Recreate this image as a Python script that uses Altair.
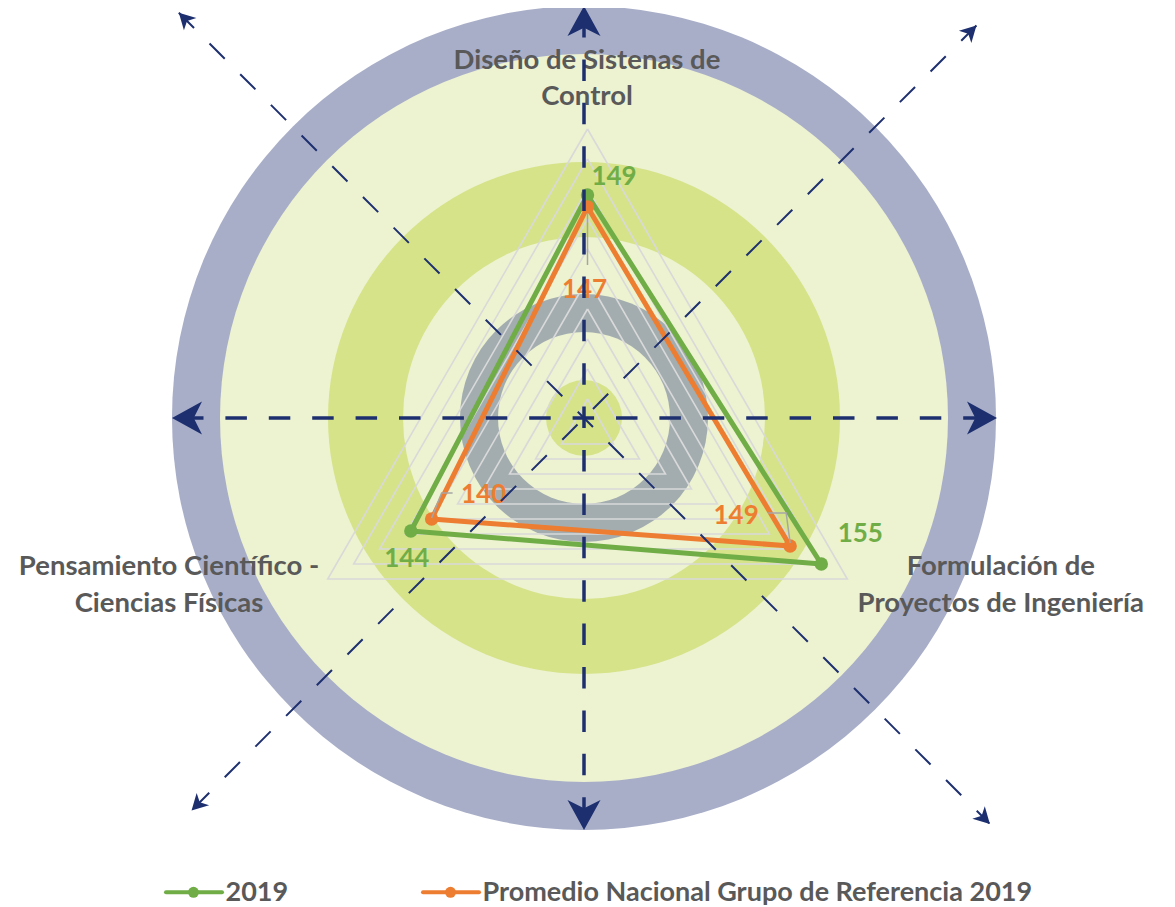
import altair as alt
import pandas as pd

# ---------------- data ----------------
axis_names = ["Diseño de Sistenas de Control",
              "Formulación de Proyectos de Ingeniería",
              "Pensamiento Científico - Ciencias Físicas"]
axis_label_line1 = ["Diseño de Sistenas de", "Formulación de", "Pensamiento Científico -"]
axis_label_line2 = ["Control", "Proyectos de Ingeniería", "Ciencias Físicas"]
series_names = ["2019", "Promedio Nacional Grupo de Referencia 2019"]
values_2019 = [149, 155, 144]
values_promedio = [147, 149, 140]
radial_min = 110
radial_max = 160
grid_levels = [115, 120, 125, 130, 135, 140, 145, 150, 155, 160]

# ---------------- styling ----------------
W, H = 1159, 899
CX, CY = 576, 410                     # centre of the decorative rings (plot px)
RADAR_DX, RADAR_DY = 3.5, -11         # radar centre relative to ring centre
RADAR_R = 300
FONT = "Lato"
TEXT_GREY = "#595959"
SERIES_COLORS = ["#70ad47", "#ed7d31"]
NAVY = "#1d2f6f"
RING_RADII = [412, 364, 256, 181, 124, 86, 38]
RING_COLORS = ["#a8aec8", "#edf2d1", "#d6e389", "#edf2d1", "#a3adb0", "#edf2d1", "#d6e389"]

# data-label offsets (screen px: dx, baseline dy) per series per axis
LABEL_OFFSETS = [[(26.5, -10), (39, -22), (-4, 36)],
                 [(-3, 91), (-54, -22), (52, -16)]]
# leader lines of the second series labels (screen px relative to point)
LEADERS = [[(0, 6), (0, 58)],
           [(0, -3), (-4, -33), (-22, -33)],
           [(0, -1), (10, -26), (21, -26)]]
# axis label offsets from outer vertex (dx, baseline dy line1, line2)
AXIS_LABEL_OFF = [(-0.5, -59.7, -24), (153.5, -4, 32.7), (-158.7, -4, 32.7)]

XS = alt.Scale(domain=[-CX, W - CX], nice=False, zero=False)
YS = alt.Scale(domain=[-(H - CY), CY], nice=False, zero=False)


def X(f):
    return alt.X(f, type="quantitative", scale=XS, axis=None)


def Y(f):
    return alt.Y(f, type="quantitative", scale=YS, axis=None)


def radar_calc(ch, value_field="value", idx_field="i"):
    return ch.transform_calculate(
        ang=f"PI/2 - 2*PI/3*datum.{idx_field}",
        rr=f"(datum.{value_field} - {radial_min})/({radial_max} - {radial_min})*{RADAR_R}",
        px=f"{RADAR_DX} + datum.rr*cos(datum.ang)",
        py=f"{RADAR_DY} + datum.rr*sin(datum.ang)",
    )


# ---- rings ----
rings = pd.DataFrame({"r": RING_RADII, "color": RING_COLORS, "k": list(range(len(RING_RADII)))})
rings["cx"] = 0.0
rings["cy"] = 0.0
ring_layer = alt.Chart(rings).transform_calculate(sz="4*datum.r*datum.r").mark_point(
    shape="circle", filled=True, opacity=1, strokeWidth=0
).encode(
    x=X("cx"), y=Y("cy"),
    size=alt.Size("sz:Q", scale=None),
    color=alt.Color("color:N", scale=None),
    order=alt.Order("k:Q"),
)

# ---- grid triangles ----
grid_rows = []
for lv in grid_levels:
    for v in range(4):
        grid_rows.append({"level": lv, "i": v, "value": lv})
grid_layer = radar_calc(alt.Chart(pd.DataFrame(grid_rows))).mark_line(
    color="#d9d9d9", strokeWidth=1.6
).encode(x=X("px"), y=Y("py"), detail="level:N", order="i:Q")

# ---- series ----
series_values = [values_2019, values_promedio]
series_layers = []
label_layers = []
for s, (name, vals) in enumerate(zip(series_names, series_values)):
    rows = [{"series": name, "i": i, "value": vals[i % 3]} for i in range(4)]
    df = pd.DataFrame(rows)
    base = radar_calc(alt.Chart(df))
    line = base.mark_line(color=SERIES_COLORS[s], strokeWidth=5, strokeJoin="round").encode(
        x=X("px"), y=Y("py"), order="i:Q")
    pts = base.transform_filter("datum.i < 3").mark_point(
        shape="circle", filled=True, opacity=1, size=180, color=SERIES_COLORS[s]
    ).encode(x=X("px"), y=Y("py"))
    series_layers += [line, pts]

    lab = pd.DataFrame({"i": [0, 1, 2], "value": vals,
                        "text": [str(v) for v in vals],
                        "dx": [o[0] for o in LABEL_OFFSETS[s]],
                        "dy": [o[1] for o in LABEL_OFFSETS[s]]})
    lab_layer = radar_calc(alt.Chart(lab)).transform_calculate(
        lx="datum.px + datum.dx", ly="datum.py - datum.dy"
    ).mark_text(font=FONT, fontSize=26, fontWeight="bold", color=SERIES_COLORS[s],
                align="center", baseline="alphabetic").encode(
        x=X("lx"), y=Y("ly"), text="text:N")
    label_layers.append(lab_layer)

# leader lines for the second series
lead_rows = []
for i in range(3):
    for j, (ddx, ddy) in enumerate(LEADERS[i]):
        lead_rows.append({"i": i, "j": j, "value": values_promedio[i], "ddx": ddx, "ddy": ddy})
leader_layer = radar_calc(alt.Chart(pd.DataFrame(lead_rows))).transform_calculate(
    lx="datum.px + datum.ddx", ly="datum.py - datum.ddy"
).mark_line(color="#a6a6a6", strokeWidth=1.5).encode(
    x=X("lx"), y=Y("ly"), detail="i:N", order="j:Q")

# ---- axis category labels ----
ax_rows = []
for i in range(3):
    off = AXIS_LABEL_OFF[i]
    ax_rows.append({"i": i, "value": radial_max, "text": axis_label_line1[i], "dx": off[0], "dy": off[1]})
    ax_rows.append({"i": i, "value": radial_max, "text": axis_label_line2[i], "dx": off[0], "dy": off[2]})
axis_label_layer = radar_calc(alt.Chart(pd.DataFrame(ax_rows))).transform_calculate(
    lx="datum.px + datum.dx", ly="datum.py - datum.dy"
).mark_text(font=FONT, fontSize=27.5, fontWeight="bold", color=TEXT_GREY,
            align="center", baseline="alphabetic").encode(x=X("lx"), y=Y("ly"), text="text:N")

# ---- dashed guide lines ----
dash_df = pd.DataFrame({
    "a": [180, 90, 135, 45],
    "r1": [402, 402, 573, 555],
    "r2": [402, 402, 573, 555],
    "w": [3.5, 3.5, 2.0, 2.0],
})
dash_base = alt.Chart(dash_df).transform_calculate(
    rad="datum.a*PI/180",
    x1="datum.r1*cos(datum.rad)", y1="datum.r1*sin(datum.rad)",
    x2="-datum.r2*cos(datum.rad)", y2="-datum.r2*sin(datum.rad)",
)
dash_layers = []
for wv in [3.5, 2.0]:
    dash_layers.append(
        dash_base.transform_filter(f"datum.w == {wv}").mark_rule(
            color=NAVY, strokeWidth=wv, strokeDash=[21.5, 21.9]
        ).encode(x=X("x1"), y=Y("y1"), x2="x2:Q", y2="y2:Q")
    )

ARROW_PATH = "M1,0 L-1,-1.1 L-0.45,0 L-1,1.1 Z"
arrow_df = pd.DataFrame({
    "a": [0, 90, 180, 270, 135, 315, 45, 225],
    "tip": [413, 412, 412, 412, 573, 574, 555, 555],
    "len": [30, 30, 30, 30, 16, 16, 16, 16],
})
arrow_layer = alt.Chart(arrow_df).transform_calculate(
    rad="datum.a*PI/180",
    rc="datum.tip - datum.len/2",
    ax="datum.rc*cos(datum.rad)", ay="datum.rc*sin(datum.rad)",
    sa="(360 - datum.a) % 360",
    sz="datum.len*datum.len",
).mark_point(shape=ARROW_PATH, filled=True, opacity=1, color=NAVY, strokeWidth=0).encode(
    x=X("ax"), y=Y("ay"),
    angle=alt.Angle("sa:Q", scale=None),
    size=alt.Size("sz:Q", scale=None),
)

# ---- legend (manual) ----
LEGEND_X = [-418, -161]
LEGEND_Y = -474.3
LEGEND_TEXT_Y = -482.7
leg = pd.DataFrame({"series": series_names, "x0": LEGEND_X, "k": [0, 1]})
leg["y"] = LEGEND_Y
leg["ty"] = LEGEND_TEXT_Y
leg_base = alt.Chart(leg).transform_calculate(
    x1="datum.x0 + 56", xm="datum.x0 + 27.5", xt="datum.x0 + 59.5")
leg_color = alt.Color("series:N", scale=alt.Scale(domain=series_names, range=SERIES_COLORS), legend=None)
leg_line = leg_base.mark_rule(strokeWidth=4, strokeCap="round").encode(
    x=X("x0"), x2="x1:Q", y=Y("y"), color=leg_color)
leg_pt = leg_base.mark_point(shape="circle", filled=True, opacity=1, size=120).encode(
    x=X("xm"), y=Y("y"), color=leg_color)
leg_text = leg_base.mark_text(font=FONT, fontSize=27, fontWeight="bold", color=TEXT_GREY,
                              align="left", baseline="alphabetic").encode(
    x=X("xt"), y=Y("ty"), text="series:N")

chart = alt.layer(
    ring_layer, grid_layer, *series_layers, leader_layer, *label_layers,
    axis_label_layer, *dash_layers, arrow_layer, leg_line, leg_pt, leg_text
).properties(
    width=W, height=H, padding=0, autosize=alt.AutoSizeParams(type="none"),
    background="white"
).configure_view(strokeWidth=0)

chart.save("out.html", embed_options={"renderer": "svg", "actions": False})
